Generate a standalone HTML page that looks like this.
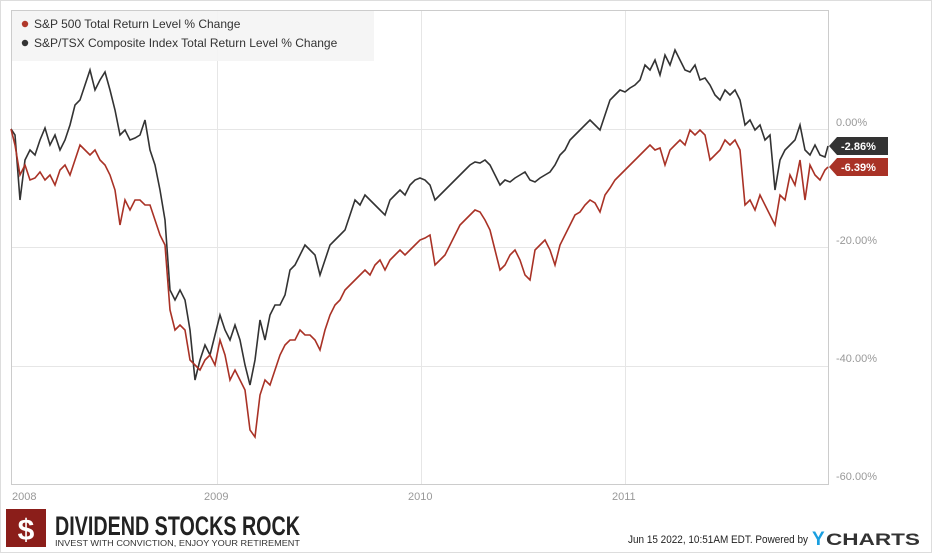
<!DOCTYPE html><html><head><style>body{margin:0;background:#fff;font-family:"Liberation Sans",sans-serif}</style></head><body>
<svg width="934" height="555" xmlns="http://www.w3.org/2000/svg" style="display:block">
<rect x="0.5" y="0.5" width="931" height="552" fill="#fff" stroke="#ddd"/>
<g stroke="#e6e6e6" stroke-width="1">
<line x1="11" y1="129.5" x2="828" y2="129.5"/><line x1="11" y1="247.5" x2="828" y2="247.5"/><line x1="11" y1="366.5" x2="828" y2="366.5"/>
<line x1="217.5" y1="10" x2="217.5" y2="484"/><line x1="421.5" y1="10" x2="421.5" y2="484"/><line x1="625.5" y1="10" x2="625.5" y2="484"/>
</g>
<rect x="11.5" y="10.5" width="817" height="474" fill="none" stroke="#ccc"/>
<rect x="12" y="11" width="362" height="50" fill="#f4f4f4" opacity="0.9"/>
<circle cx="25" cy="24" r="3.2" fill="#b0382a"/><circle cx="25" cy="43" r="3.2" fill="#333"/>
<text x="34" y="28" font-size="12" fill="#333">S&amp;P 500 Total Return Level % Change</text>
<text x="34" y="47" font-size="12" fill="#333">S&amp;P/TSX Composite Index Total Return Level % Change</text>
<polyline fill="none" stroke="#333" stroke-width="1.6" points="11,129 15,135 20,200 25,160 30,150 35,155 40,140 45,128 50,145 55,135 60,150 65,140 70,125 75,105 80,100 85,85 90,70 95,90 100,80 105,72 110,90 115,110 120,135 125,130 130,140 135,138 140,135 145,120 150,150 155,165 160,190 165,220 170,290 175,300 180,290 185,300 190,330 195,380 200,360 205,345 210,355 215,335 220,315 225,330 230,340 235,325 240,340 245,365 250,385 255,360 260,320 265,340 270,315 275,305 280,305 285,295 290,270 295,265 300,255 305,245 310,250 315,255 320,275 325,260 330,245 335,240 340,235 345,230 350,215 355,200 360,205 365,195 370,200 375,205 380,210 385,215 390,200 395,195 400,190 405,195 410,185 415,180 420,178 425,180 430,185 435,200 440,195 445,190 450,185 455,180 460,175 465,170 470,165 475,162 480,163 485,160 490,165 495,175 500,185 505,180 510,182 515,178 520,175 525,172 530,180 535,182 540,178 545,175 550,172 555,165 560,155 565,150 570,140 575,135 580,130 585,125 590,120 595,125 600,130 605,115 610,100 615,95 620,90 625,92 630,88 635,85 640,80 645,65 650,70 655,60 660,75 665,55 670,65 675,50 680,60 685,70 690,72 695,65 700,80 705,78 710,85 715,95 720,100 725,90 730,95 735,90 740,100 745,125 750,120 755,130 760,125 765,140 770,135 775,190 780,160 785,150 790,145 795,140 800,125 805,150 810,155 815,145 820,155 825,157 828,146"/>
<polyline fill="none" stroke="#a93226" stroke-width="1.6" points="11,129 15,145 20,175 25,165 30,180 35,178 40,172 45,180 50,175 55,185 60,170 65,165 70,175 75,160 80,145 85,150 90,155 95,150 100,160 105,165 110,175 115,190 120,225 125,200 130,210 135,200 140,200 145,205 150,205 155,220 160,235 165,245 170,310 175,330 180,325 185,330 190,360 195,365 200,370 205,360 210,355 215,365 220,340 225,355 230,380 235,370 240,380 245,390 250,430 255,437 260,395 265,380 270,385 275,370 280,355 285,345 290,340 295,340 300,330 305,335 310,335 315,340 320,350 325,330 330,315 335,305 340,300 345,290 350,285 355,280 360,275 365,270 370,275 375,265 380,260 385,270 390,260 395,255 400,250 405,255 410,250 415,245 420,240 425,238 430,235 435,265 440,260 445,255 450,245 455,235 460,225 465,220 470,215 475,210 480,212 485,220 490,230 495,250 500,270 505,265 510,255 515,250 520,260 525,275 530,280 535,250 540,245 545,240 550,250 555,265 560,245 565,235 570,225 575,215 580,212 585,205 590,200 595,203 600,212 605,195 610,188 615,180 620,175 625,170 630,165 635,160 640,155 645,150 650,145 655,150 660,148 665,165 670,150 675,145 680,140 685,145 690,130 695,135 700,130 705,135 710,160 715,155 720,150 725,140 730,145 735,140 740,150 745,205 750,200 755,210 760,195 765,205 770,215 775,225 780,195 785,200 790,175 795,185 800,160 805,200 810,165 815,175 820,180 825,170 828,167"/>
<g font-size="11" fill="#999">
<text x="836" y="126">0.00%</text><text x="836" y="244">-20.00%</text><text x="836" y="362">-40.00%</text><text x="836" y="480">-60.00%</text>
<text x="12" y="500">2008</text><text x="204" y="500">2009</text><text x="408" y="500">2010</text><text x="612" y="500">2011</text>
</g>
<path d="M829,146 L837,137 H888 V155 H837 Z" fill="#333"/>
<text x="841" y="150" font-size="11" font-weight="bold" fill="#fff">-2.86%</text>
<path d="M829,167 L837,158 H888 V176 H837 Z" fill="#a93226"/>
<text x="841" y="171" font-size="11" font-weight="bold" fill="#fff">-6.39%</text>
<rect x="6" y="509" width="40" height="38" fill="#8b1e1a"/>
<text x="26" y="540" font-size="30" font-weight="bold" fill="#fff" text-anchor="middle">$</text>
<text x="55" y="535" font-size="27" font-weight="bold" fill="#222" textLength="245" lengthAdjust="spacingAndGlyphs">DIVIDEND STOCKS ROCK</text>
<text x="55" y="546" font-size="8" fill="#333" textLength="245" lengthAdjust="spacingAndGlyphs">INVEST WITH CONVICTION, ENJOY YOUR RETIREMENT</text>
<text x="628" y="543" font-size="11" fill="#222" textLength="180" lengthAdjust="spacingAndGlyphs">Jun 15 2022, 10:51AM EDT.  Powered by</text>
<text x="812" y="545" font-size="19" font-weight="bold" fill="#1a9fe0">Y</text>
<text x="826" y="545" font-size="17" font-weight="bold" fill="#333" textLength="94" lengthAdjust="spacingAndGlyphs">CHARTS</text>
</svg></body></html>
